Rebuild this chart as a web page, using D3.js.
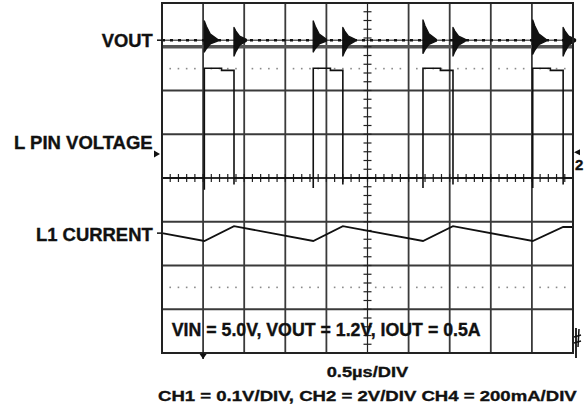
<!DOCTYPE html>
<html>
<head>
<meta charset="utf-8">
<script src="https://cdn.jsdelivr.net/npm/d3@7"></script>
<style>
  body { margin: 0; background: #fff; }
  svg { display: block; }
  text { font-family: "Liberation Sans", Arial, sans-serif; font-weight: bold; fill: #111; stroke: #111; stroke-width: 0.35; }
</style>
</head>
<body>
<div id="chart"></div>
<script>
// time in µs (0.5µs/DIV), levels in divisions from screen centre
const timeDomain = [0, 5];
const divDomain = [-4, 4];

// L pin switching edges
const pulseRise = [0.515, 1.84, 3.175, 4.51];
const pulseFall = [0.876, 2.2, 3.54, 4.88];
const lpinLow = 0;
const lpinHighStart = 2.51;
const lpinHighEnd = 2.46;
const lpinUndershoot = [-0.27, -0.23, -0.23, -0.23];
const lpinFallKick = -0.15;

// VOUT ripple level and switching spikes
const voutLevel = 3.15;
const riseSpikeUp = [0.44, 0.44, 0.46, 0.46];
const riseSpikeDown = [0.27, 0.27, 0.3, 0.32];
const fallSpikeUp = [0.29, 0.29, 0.29, 0.29];
const fallSpikeDown = [0.36, 0.36, 0.36, 0.36];

// L1 current triangle
const currentTime = [0, 0.515, 0.876, 1.84, 2.2, 3.175, 3.54, 4.51, 4.88, 5];
const currentLevel = [-1.26, -1.44, -1.1, -1.44, -1.1, -1.44, -1.1, -1.44, -1.12, -1.12];

const refDotLevels = [2.5, -2.5];
const channelLabels = ["VOUT", "L PIN VOLTAGE", "L1 CURRENT"];
const conditionText = "VIN = 5.0V, VOUT = 1.2V, IOUT = 0.5A";
const timebaseText = "0.5µs/DIV";
const scaleText = "CH1 = 0.1V/DIV, CH2 = 2V/DIV CH4 = 200mA/DIV";

const width = 588;
const height = 406;
const plot = { left: 162, right: 573, top: 3, bottom: 353 };

const svg = d3
  .select("#chart")
  .append("svg")
  .attr("width", width)
  .attr("height", height);

const x = d3.scaleLinear().domain(timeDomain).range([plot.left, plot.right]);
const y = d3.scaleLinear().domain(divDomain).range([plot.bottom, plot.top]);

//////////// grid ////////////
const gridColor = "#3a3a3a";
const gridX = d3.range(0.5, 5, 0.5).filter((d) => Math.abs(d - 2.5) > 0.01);
const gridY = d3.range(-3, 4, 1).filter((d) => d !== 0);

svg
  .append("g")
  .selectAll("line")
  .data(gridX)
  .join("line")
  .attr("x1", (d) => x(d))
  .attr("x2", (d) => x(d))
  .attr("y1", plot.top)
  .attr("y2", plot.bottom)
  .attr("stroke", gridColor)
  .attr("stroke-width", 1.8);

svg
  .append("g")
  .selectAll("line")
  .data(gridY)
  .join("line")
  .attr("x1", plot.left)
  .attr("x2", plot.right)
  .attr("y1", (d) => y(d))
  .attr("y2", (d) => y(d))
  .attr("stroke", (d) => (d === 3 ? "#555" : gridColor))
  .attr("stroke-width", (d) => (d === 3 ? 3.5 : 1.8));

// dotted reference levels
const dotTimes = [];
d3.range(0, 5, 0.5).forEach((g) =>
  [0.2, 0.4, 0.6, 0.8].forEach((f) => dotTimes.push(g + f * 0.5))
);
refDotLevels.forEach((lvl) => {
  svg
    .append("g")
    .selectAll("rect")
    .data(dotTimes)
    .join("rect")
    .attr("x", (d) => x(d) - 0.8)
    .attr("y", y(lvl) - 0.8)
    .attr("width", 1.6)
    .attr("height", 1.6)
    .attr("fill", "#8a8a8a");
});

// centre cross with minor ticks
const axis = svg.append("g").attr("stroke", "#222").attr("stroke-width", 1.2);
axis
  .append("line")
  .attr("x1", x(2.5))
  .attr("x2", x(2.5))
  .attr("y1", plot.top)
  .attr("y2", plot.bottom);
axis
  .append("line")
  .attr("x1", plot.left)
  .attr("x2", plot.right)
  .attr("y1", y(0))
  .attr("y2", y(0));
axis
  .selectAll(".yt")
  .data(d3.range(-3.8, 4, 0.2))
  .join("line")
  .attr("x1", x(2.5) - 4)
  .attr("x2", x(2.5) + 4)
  .attr("y1", (d) => y(d))
  .attr("y2", (d) => y(d));
axis
  .selectAll(".xt")
  .data(d3.range(0.1, 5, 0.1))
  .join("line")
  .attr("x1", (d) => x(d))
  .attr("x2", (d) => x(d))
  .attr("y1", y(0) - 4)
  .attr("y2", y(0) + 4);

//////////// traces ////////////
const line = d3
  .line()
  .x((d) => x(d[0]))
  .y((d) => y(d[1]));

// VOUT
svg
  .append("path")
  .attr("fill", "none")
  .attr("stroke", "#111")
  .attr("stroke-width", 1)
  .attr("d", line([[timeDomain[0], voutLevel], [timeDomain[1], voutLevel]]));
svg
  .append("path")
  .attr("fill", "none")
  .attr("stroke", "#111")
  .attr("stroke-width", 2.4)
  .attr("stroke-dasharray", "3 5")
  .attr("d", line([[timeDomain[0], voutLevel], [timeDomain[1], voutLevel]]));

// ringing envelope after each edge
const spikeShape = (t, up, down, decay) => [
  [t, voutLevel + up],
  [t + decay * 0.15, voutLevel + up * 0.72],
  [t + decay * 0.45, voutLevel + up * 0.32],
  [t + decay, voutLevel + 0.02],
  [t + decay, voutLevel - 0.02],
  [t + decay * 0.45, voutLevel - down * 0.32],
  [t + decay * 0.15, voutLevel - down * 0.72],
  [t, voutLevel - down],
];
const spikes = [];
pulseRise.forEach((t, i) => spikes.push(spikeShape(t, riseSpikeUp[i], riseSpikeDown[i], 0.16)));
pulseFall.forEach((t, i) => spikes.push(spikeShape(t, fallSpikeUp[i], fallSpikeDown[i], 0.15)));
svg
  .append("g")
  .selectAll("path")
  .data(spikes)
  .join("path")
  .attr("fill", "#111")
  .attr("stroke", "#111")
  .attr("stroke-width", 1.4)
  .attr("stroke-linejoin", "round")
  .attr("d", (d) => line(d) + "Z");

// L pin voltage
const lpinPoints = [[timeDomain[0], lpinLow]];
pulseRise.forEach((r, i) => {
  const f = pulseFall[i];
  const knee = r + (f - r) * 0.58;
  lpinPoints.push(
    [r, lpinLow],
    [r, lpinUndershoot[i]],
    [r, lpinHighStart],
    [knee, lpinHighStart],
    [knee, lpinHighEnd],
    [f, lpinHighEnd],
    [f, lpinFallKick],
    [f, lpinLow]
  );
});
lpinPoints.push([timeDomain[1], lpinLow]);
svg
  .append("path")
  .attr("fill", "none")
  .attr("stroke", "#111")
  .attr("stroke-width", 1.6)
  .attr("d", line(lpinPoints));
svg
  .append("path")
  .attr("fill", "none")
  .attr("stroke", "#111")
  .attr("stroke-width", 1.4)
  .attr("d", line([[timeDomain[0], lpinLow], [timeDomain[1], lpinLow]]));

// L1 current
svg
  .append("path")
  .attr("fill", "none")
  .attr("stroke", "#111")
  .attr("stroke-width", 1.8)
  .attr("d", line(currentTime.map((t, i) => [t, currentLevel[i]])));

// frame
svg
  .append("rect")
  .attr("x", plot.left)
  .attr("y", plot.top)
  .attr("width", plot.right - plot.left)
  .attr("height", plot.bottom - plot.top)
  .attr("fill", "none")
  .attr("stroke", "#222")
  .attr("stroke-width", 2);

//////////// markers ////////////
const mk = svg.append("g").attr("fill", "#111").attr("stroke", "#111");
// ch2 ground marker on the left
const gnd = y(0.55);
mk.append("path")
  .attr("stroke", "none")
  .attr("d", `M${plot.left - 8},${gnd - 3.5}L${plot.left - 2},${gnd}L${plot.left - 8},${gnd + 3.5}Z`);
mk.append("line")
  .attr("x1", plot.left - 5)
  .attr("x2", plot.left)
  .attr("y1", y(currentLevel[0]))
  .attr("y2", y(currentLevel[0]))
  .attr("stroke-width", 1.5);
mk.append("line")
  .attr("x1", plot.left - 5)
  .attr("x2", plot.left)
  .attr("y1", y(voutLevel))
  .attr("y2", y(voutLevel))
  .attr("stroke-width", 1.5);
// trigger position at the bottom
const trig = x(gridX[0]);
mk.append("line")
  .attr("x1", trig)
  .attr("x2", trig)
  .attr("y1", plot.bottom)
  .attr("y2", plot.bottom + 6)
  .attr("stroke-width", 1.5);
mk.append("path")
  .attr("stroke", "none")
  .attr("d", `M${trig - 3.5},${plot.bottom + 1}L${trig + 3.5},${plot.bottom + 1}L${trig},${plot.bottom + 6}Z`);
// ch2 marker on the right
mk.append("path")
  .attr("stroke", "none")
  .attr("d", `M${plot.right + 1},${y(0.59)}L${plot.right + 7},${y(0.59) - 3}L${plot.right + 7},${y(0.59) + 3}Z`);
svg
  .append("text")
  .attr("x", plot.right + 2)
  .attr("y", y(0.18))
  .attr("font-size", 15)
  .text("2");
// ch4 marker bottom right
mk.append("line")
  .attr("x1", plot.right + 3).attr("x2", plot.right + 3)
  .attr("y1", plot.bottom - 25).attr("y2", plot.bottom + 5)
  .attr("stroke-width", 1.8);
mk.append("line")
  .attr("x1", plot.right + 6).attr("x2", plot.right + 5)
  .attr("y1", plot.bottom - 24).attr("y2", plot.bottom - 6)
  .attr("stroke-width", 1.5);
mk.selectAll(".c4")
  .data([-17, -11])
  .join("line")
  .attr("x1", plot.right + 1)
  .attr("x2", plot.right + 8)
  .attr("y1", (d) => plot.bottom + d + 1)
  .attr("y2", (d) => plot.bottom + d - 1)
  .attr("stroke-width", 1.5);

//////////// text ////////////
const labelRight = 152.7;
const labelBaselines = [47, 148.5, 240.5];
const labelLengths = [51, 138.7, 116.7];
svg
  .append("g")
  .selectAll("text")
  .data(channelLabels)
  .join("text")
  .attr("x", (d, i) => labelRight - labelLengths[i])
  .attr("y", (d, i) => labelBaselines[i])
  .attr("font-size", 17.5)
  .attr("textLength", (d, i) => labelLengths[i])
  .attr("lengthAdjust", "spacingAndGlyphs")
  .text((d) => d);

svg
  .append("text")
  .attr("x", 171.7)
  .attr("y", 336)
  .attr("font-size", 18)
  .attr("textLength", 309)
  .attr("lengthAdjust", "spacingAndGlyphs")
  .text(conditionText);

svg
  .append("text")
  .attr("x", 326.7)
  .attr("y", 377)
  .attr("font-size", 15.5)
  .attr("textLength", 81.6)
  .attr("lengthAdjust", "spacingAndGlyphs")
  .text(timebaseText);

svg
  .append("text")
  .attr("x", 158)
  .attr("y", 400.5)
  .attr("font-size", 15.5)
  .attr("textLength", 418.7)
  .attr("lengthAdjust", "spacingAndGlyphs")
  .text(scaleText);
</script>
</body>
</html>
